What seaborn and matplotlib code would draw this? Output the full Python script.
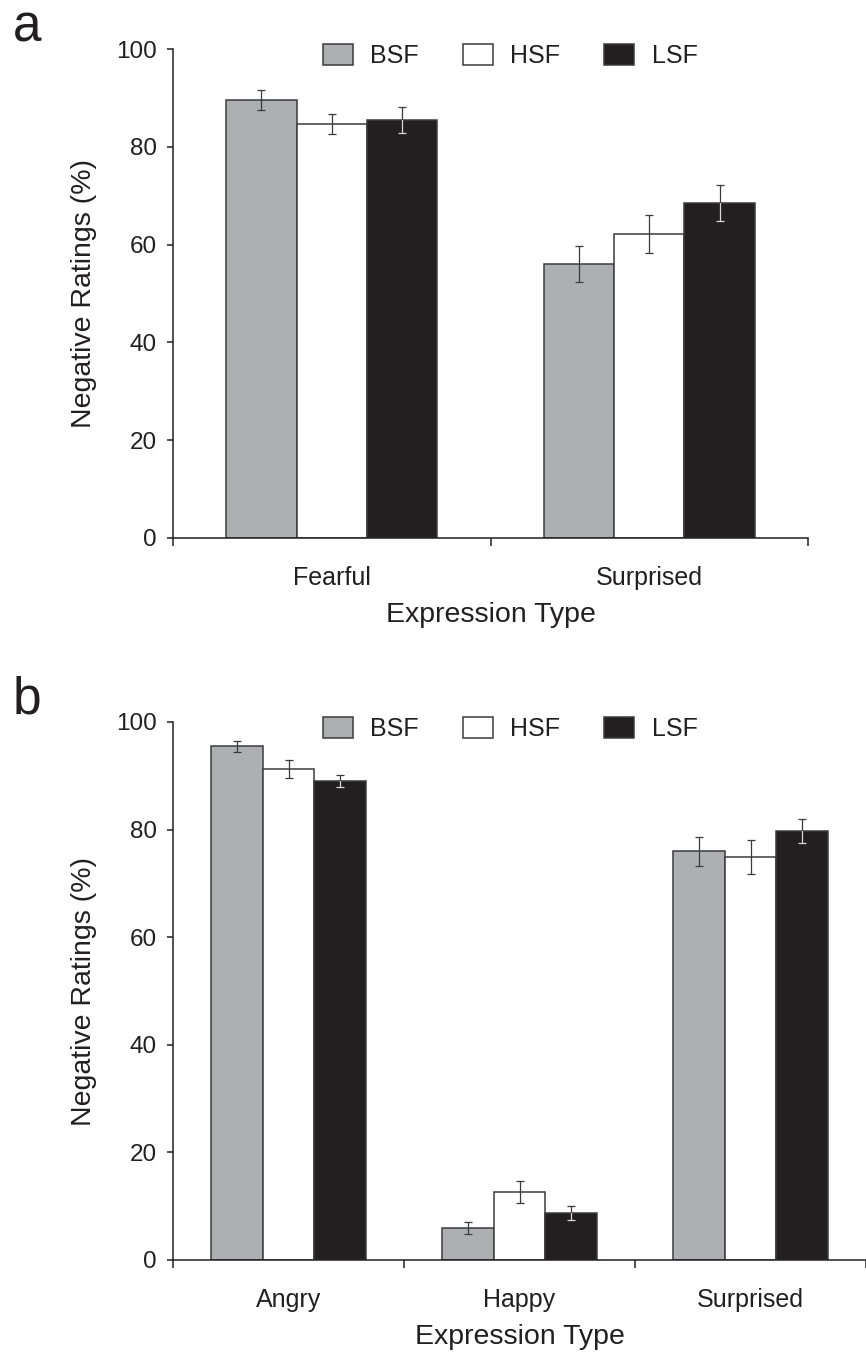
import numpy as np
import pandas as pd
import matplotlib
matplotlib.use('Agg')
import matplotlib.pyplot as plt
import seaborn as sns

# conditions (spatial frequency)
conds = ['BSF', 'HSF', 'LSF']
colors = ['#adafb2', '#ffffff', '#231f20']

# panel a
expr_a = ['Fearful', 'Surprised']
a_bsf = [89.6, 56.0]
a_hsf = [84.7, 62.2]
a_lsf = [85.5, 68.5]
a_err_bsf = [2.0, 3.7]
a_err_hsf = [2.1, 3.9]
a_err_lsf = [2.7, 3.6]

# panel b
expr_b = ['Angry', 'Happy', 'Surprised']
b_bsf = [95.5, 5.9, 76.0]
b_hsf = [91.3, 12.6, 74.9]
b_lsf = [89.0, 8.7, 79.7]
b_err_bsf = [1.0, 1.1, 2.7]
b_err_hsf = [1.7, 2.0, 3.1]
b_err_lsf = [1.1, 1.3, 2.2]

sns.set_theme(style='white')
plt.rcParams['font.family'] = ['Liberation Sans', 'DejaVu Sans']
plt.rcParams['text.color'] = '#231f20'
plt.rcParams['axes.labelcolor'] = '#231f20'
plt.rcParams['xtick.color'] = '#231f20'
plt.rcParams['ytick.color'] = '#231f20'

W, H = 866, 1357
fig = plt.figure(figsize=(W / 100, H / 100), dpi=100)

EDGE = '#3c3c3c'


def make_df(expr, bsf, hsf, lsf):
    rows = []
    for c, vals in zip(conds, [bsf, hsf, lsf]):
        for e, v in zip(expr, vals):
            rows.append({'expr': e, 'cond': c, 'val': v})
    return pd.DataFrame(rows)


def draw_panel(ax, expr, bsf, hsf, lsf, errs, bar_w, letter, leg_top):
    df = make_df(expr, bsf, hsf, lsf)
    sns.barplot(data=df, x='expr', y='val', hue='cond', order=expr, hue_order=conds,
                palette=colors, width=bar_w, edgecolor=EDGE, linewidth=1.1,
                errorbar=None, saturation=1, ax=ax)
    bar_conts = list(ax.containers)
    # error bars (LSF lower half drawn light on the dark bar)
    for i, cont in enumerate(bar_conts):
        for p, e in zip(cont.patches, errs[i]):
            x = p.get_x() + p.get_width() / 2
            v = p.get_height()
            if conds[i] == 'LSF':
                ax.plot([x, x], [v, v + e], color='#3a3a3a', lw=0.9, zorder=5)
                ax.plot([x], [v + e], marker='_', ms=5.5, mew=0.9, color='#3a3a3a', zorder=5)
                ax.plot([x, x], [v - e, v], color='#d8d8d8', lw=0.9, zorder=5)
                ax.plot([x], [v - e], marker='_', ms=5.5, mew=0.9, color='#d8d8d8', zorder=5)
            else:
                ax.errorbar(x, v, yerr=e, fmt='none', ecolor='#3a3a3a',
                            elinewidth=0.9, capsize=2.8, capthick=0.9, zorder=5)

    n = len(expr)
    ax.set_xlim(-0.5, n - 0.5)
    ax.set_ylim(0, 100)
    ax.set_yticks(np.arange(0, 101, 20))
    ax.set_xticks(range(n))
    ax.set_xticklabels(expr)
    ax.set_xticks(np.arange(-0.5, n, 1.0), minor=True)
    sns.despine(ax=ax)
    for s in ['left', 'bottom']:
        ax.spines[s].set_color('#231f20')
        ax.spines[s].set_linewidth(1.1)
    ax.tick_params(axis='x', which='major', length=0, pad=20, labelsize=18)
    ax.tick_params(axis='x', which='minor', length=5.5, width=1.1, direction='out',
                   color='#231f20', bottom=True)
    ax.tick_params(axis='y', length=4.5, width=1.1, direction='out', left=True,
                   pad=7, labelsize=17.5)
    ax.set_xlabel('Expression Type', fontsize=20.5, labelpad=9)
    ax.set_ylabel('Negative Ratings (%)', fontsize=20.5, labelpad=14)

    handles, labels = ax.get_legend_handles_labels()
    ax.legend(handles[:3], labels[:3], ncol=3, frameon=False, fontsize=18,
              loc='upper left', bbox_to_anchor=(323 / W, 1 - leg_top / H),
              bbox_transform=fig.transFigure, borderaxespad=0, borderpad=0,
              handlelength=1.2, handleheight=0.92, handletextpad=0.7,
              columnspacing=1.75)

    fig.text(13 / W, 1 - (leg_top - 7 + 4) / H, letter, fontsize=37, va='baseline',
             ha='left', color='#231f20')


ax_a = fig.add_axes([173 / W, 1 - 538 / H, (808 - 173) / W, (538 - 49) / H])
draw_panel(ax_a, expr_a, a_bsf, a_hsf, a_lsf, [a_err_bsf, a_err_hsf, a_err_lsf],
           0.665, 'a', 44)

ax_b = fig.add_axes([173 / W, 1 - 1260 / H, (866 - 173) / W, (1260 - 722) / H])
draw_panel(ax_b, expr_b, b_bsf, b_hsf, b_lsf, [b_err_bsf, b_err_hsf, b_err_lsf],
           0.675, 'b', 717)

fig.savefig('out.png', dpi=100)
